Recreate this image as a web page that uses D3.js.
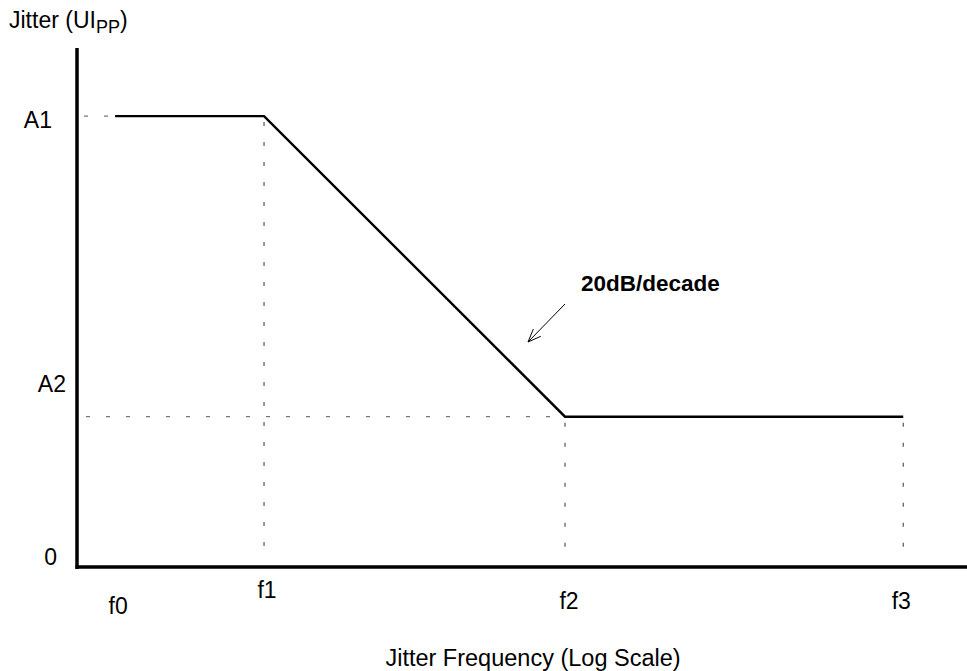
<!DOCTYPE html>
<html>
<head>
<meta charset="utf-8">
<script src="https://cdn.jsdelivr.net/npm/d3@7"></script>
<style>
  html, body { margin: 0; padding: 0; background: #fff; }
  svg { display: block; }
  text { font-family: "Liberation Sans", Arial, sans-serif; fill: #000; }
</style>
</head>
<body>
<svg id="chart" width="967" height="671"></svg>
<script>
// ---- data ----
const freqLabels = ["f0", "f1", "f2", "f3"];
const freqValues = [0.32, 1, 10, 133];        // relative jitter frequency (log scale)
const jitterValues = [3, 3, 1, 1];            // jitter amplitude (UIpp), A1 = 3, A2 = 1
const levelLabels = ["A1", "A2", "0"];
const levelValues = [3, 1, 0];
const slopeLabel = "20dB/decade";
const xTitle = "Jitter Frequency (Log Scale)";

// ---- layout ----
const svg = d3.select("#chart");
const x = d3.scaleLog().domain([0.2391, 216.6]).range([77, 967]);
const y = d3.scaleLinear().domain([0, 3.453]).range([567, 48]);

const dash = "4,16";
const guideColor = "#555";
const fs = 23;

// horizontal guides at A1 and A2
svg.append("line")
  .attr("x1", 84).attr("x2", x(freqValues[0]))
  .attr("y1", y(levelValues[0])).attr("y2", y(levelValues[0]))
  .attr("stroke", guideColor).attr("stroke-width", 1).attr("stroke-dasharray", dash);
svg.append("line")
  .attr("x1", 86).attr("x2", x(freqValues[2]))
  .attr("y1", y(levelValues[1])).attr("y2", y(levelValues[1]))
  .attr("stroke", guideColor).attr("stroke-width", 1).attr("stroke-dasharray", dash);

// vertical guides at f1, f2, f3
[1, 2, 3].forEach(i => {
  svg.append("line")
    .attr("x1", x(freqValues[i])).attr("x2", x(freqValues[i]))
    .attr("y1", y(jitterValues[i]) + 2).attr("y2", 558)
    .attr("stroke", guideColor).attr("stroke-width", 1.2).attr("stroke-dasharray", dash)
    .attr("stroke-dashoffset", -4);
});

// axes
svg.append("line").attr("x1", 77).attr("x2", 77).attr("y1", 48).attr("y2", 569)
  .attr("stroke", "#000").attr("stroke-width", 3.5);
svg.append("line").attr("x1", 75.5).attr("x2", 967).attr("y1", y(0)).attr("y2", y(0))
  .attr("stroke", "#000").attr("stroke-width", 3.5);

// mask line
const pts = freqValues.map((f, i) => [x(f), y(jitterValues[i])]);
svg.append("path")
  .attr("d", d3.line()(pts))
  .attr("fill", "none").attr("stroke", "#000").attr("stroke-width", 2.4)
  .attr("stroke-linejoin", "miter");

// y labels
const yLabelRight = [52, 66, 57];
const yLabelBase = [128, 392, 565];
levelLabels.forEach((t, i) => {
  svg.append("text").attr("x", yLabelRight[i]).attr("y", yLabelBase[i])
    .attr("text-anchor", "end").attr("font-size", fs).text(t);
});

// x labels
const xLabelDx = [3, 3, 4, -2];
const xLabelBase = [614, 598, 609, 609];
freqLabels.forEach((t, i) => {
  svg.append("text").attr("x", x(freqValues[i]) + xLabelDx[i]).attr("y", xLabelBase[i])
    .attr("text-anchor", "middle").attr("font-size", fs).text(t);
});

// y title with subscript
const yt = svg.append("text").attr("x", 9).attr("y", 28).attr("font-size", fs);
yt.append("tspan").text("Jitter (UI");
yt.append("tspan").attr("font-size", 18).attr("dy", 5).text("PP");
yt.append("tspan").attr("dy", -5).text(")");

// x title
svg.append("text").attr("x", 533).attr("y", 666).attr("text-anchor", "middle")
  .attr("font-size", fs + 0.5).text(xTitle);

// slope annotation
svg.append("text").attr("x", 581).attr("y", 291).attr("font-size", 22.5)
  .attr("font-weight", "bold").text(slopeLabel);
const tip = [528, 342];
const tail = [565, 304];
svg.append("line").attr("x1", tail[0]).attr("y1", tail[1]).attr("x2", tip[0]).attr("y2", tip[1])
  .attr("stroke", "#000").attr("stroke-width", 1);
const ang = Math.atan2(tail[1] - tip[1], tail[0] - tip[0]);
const hl = 14, spread = 0.38;
[ang - spread, ang + spread].forEach(a => {
  svg.append("line").attr("x1", tip[0]).attr("y1", tip[1])
    .attr("x2", tip[0] + hl * Math.cos(a)).attr("y2", tip[1] + hl * Math.sin(a))
    .attr("stroke", "#000").attr("stroke-width", 1);
});
</script>
</body>
</html>
